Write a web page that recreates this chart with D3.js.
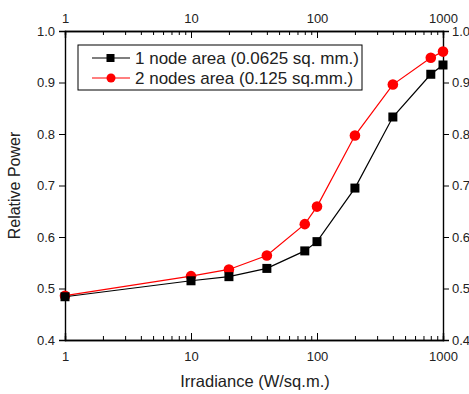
<!DOCTYPE html>
<html>
<head>
<meta charset="utf-8">
<script src="https://cdn.jsdelivr.net/npm/d3@7"></script>
<style>
  body { margin: 0; background: #fff; }
  text { font-family: Arial, "Liberation Sans", sans-serif; fill: #222; }
</style>
</head>
<body>
<div id="chart"></div>
<script>
const irradiance = [1, 10, 20, 40, 80, 100, 200, 400, 800, 1000];
const oneNode = [0.484, 0.515, 0.523, 0.539, 0.573, 0.591, 0.695, 0.833, 0.916, 0.934];
const twoNodes = [0.486, 0.524, 0.537, 0.564, 0.625, 0.659, 0.797, 0.896, 0.948, 0.960];
const seriesNames = ['1 node area (0.0625 sq. mm.)', '2 nodes area (0.125 sq.mm.)'];
const xTicks = [1, 10, 100, 1000];
const yTicks = [0.4, 0.5, 0.6, 0.7, 0.8, 0.9, 1.0];

const width = 469, height = 394;
const margin = { top: 31, right: 26, bottom: 54, left: 65 };
const w = width - margin.left - margin.right;
const h = height - margin.top - margin.bottom;

const svg = d3.select('#chart').append('svg')
  .attr('width', width)
  .attr('height', height);

const g = svg.append('g')
  .attr('transform', `translate(${margin.left},${margin.top})`);

const x = d3.scaleLog().domain([1, 1000]).range([0, w]);
const y = d3.scaleLinear().domain([0.4, 1.0]).range([h, 0]);

// minor ticks 2..9 per decade
const minor = [];
for (let d = 1; d < 1000; d *= 10) {
  for (let k = 2; k <= 9; k++) minor.push(d * k);
}

function styleAxis(sel) {
  sel.select('.domain').attr('stroke', '#000').attr('stroke-width', 1.4);
  sel.selectAll('.tick line').attr('stroke', '#000').attr('stroke-width', 1);
  sel.selectAll('.tick text').style('font-size', '13px');
}

// bottom axis (inward ticks)
g.append('g').attr('transform', `translate(0,${h})`)
  .call(d3.axisBottom(x).tickValues(minor).tickSize(-4).tickFormat(''))
  .call(styleAxis);
g.append('g').attr('transform', `translate(0,${h})`)
  .call(d3.axisBottom(x).tickValues(xTicks).tickSize(-7).tickPadding(12).tickFormat(d3.format('d')))
  .call(styleAxis);

// top axis (inward ticks)
g.append('g')
  .call(d3.axisTop(x).tickValues(minor).tickSize(-4).tickFormat(''))
  .call(styleAxis);
g.append('g')
  .call(d3.axisTop(x).tickValues(xTicks).tickSize(-7).tickPadding(8).tickFormat(d3.format('d')))
  .call(styleAxis);

// left and right axes (outward ticks)
g.append('g')
  .call(d3.axisLeft(y).tickValues(yTicks).tickSize(6).tickPadding(4).tickFormat(d3.format('.1f')))
  .call(styleAxis);
g.append('g').attr('transform', `translate(${w},0)`)
  .call(d3.axisRight(y).tickValues(yTicks).tickSize(6).tickPadding(3).tickFormat(d3.format('.1f')))
  .call(styleAxis);

const line = d3.line()
  .x((d, i) => x(irradiance[i]))
  .y(d => y(d));

// red series
g.append('path').datum(twoNodes)
  .attr('fill', 'none').attr('stroke', '#ff0000').attr('stroke-width', 1.2)
  .attr('d', line);
g.selectAll('.dot2').data(twoNodes).join('circle')
  .attr('class', 'dot2')
  .attr('cx', (d, i) => x(irradiance[i]))
  .attr('cy', d => y(d))
  .attr('r', 5.3)
  .attr('fill', '#ff0000');

// black series
g.append('path').datum(oneNode)
  .attr('fill', 'none').attr('stroke', '#000').attr('stroke-width', 1.2)
  .attr('d', line);
g.selectAll('.dot1').data(oneNode).join('rect')
  .attr('class', 'dot1')
  .attr('x', (d, i) => x(irradiance[i]) - 4.5)
  .attr('y', d => y(d) - 4.5)
  .attr('width', 9)
  .attr('height', 9)
  .attr('fill', '#000');

// legend
const legend = g.append('g').attr('transform', 'translate(13,14)');
legend.append('rect')
  .attr('width', 284).attr('height', 45)
  .attr('fill', '#fff').attr('stroke', '#000').attr('stroke-width', 1);
const colors = ['#000', '#ff0000'];
seriesNames.forEach((name, i) => {
  const row = legend.append('g').attr('transform', `translate(0,${13 + i * 20})`);
  row.append('line').attr('x1', 14).attr('x2', 52).attr('y1', 0).attr('y2', 0)
    .attr('stroke', colors[i]).attr('stroke-width', 1.2);
  if (i === 0) {
    row.append('rect').attr('x', 28.5).attr('y', -4).attr('width', 8).attr('height', 8).attr('fill', '#000');
  } else {
    row.append('circle').attr('cx', 33).attr('cy', 0).attr('r', 4.5).attr('fill', '#ff0000');
  }
  row.append('text').attr('x', 57).attr('y', 6)
    .style('font-size', '17px').text(name);
});

// axis titles
svg.append('text')
  .attr('x', margin.left + w / 2 + 1).attr('y', 387)
  .attr('text-anchor', 'middle').style('font-size', '16.5px')
  .text('Irradiance (W/sq.m.)');
svg.append('text')
  .attr('transform', `translate(20,${margin.top + h / 2}) rotate(-90)`)
  .attr('text-anchor', 'middle').style('font-size', '16px')
  .text('Relative Power');
</script>
</body>
</html>
